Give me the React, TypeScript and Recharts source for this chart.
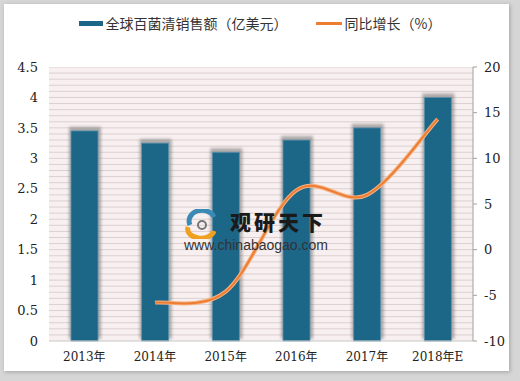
import React from "react";
import { ComposedChart, Bar, Line, XAxis, YAxis, CartesianGrid, Legend, ReferenceLine } from "recharts";

const categories = ["2013年", "2014年", "2015年", "2016年", "2017年", "2018年E"];
const salesValues = [3.45, 3.25, 3.1, 3.3, 3.5, 4.0];
const growthValues: (number | null)[] = [null, -5.8, -4.6, 6.5, 6.0, 14.3];
const leftTicks = [0, 0.5, 1, 1.5, 2, 2.5, 3, 3.5, 4, 4.5];
const rightTicks = [-10, -5, 0, 5, 10, 15, 20];
const SALES_NAME = "全球百菌清销售额（亿美元）";
const GROWTH_NAME = "同比增长（%）";

const data = categories.map((c, i) => ({ name: c, sales: salesValues[i], growth: growthValues[i] }));
// decorative background stripes every 0.1 on the left scale
const stripeValues = Array.from({ length: 45 }, (_, i) => Math.round((i + 1) * 10) / 100);

const BAR_COLOR = "#1c6688";
const LINE_COLOR = "#ed7d31";
const NUM_FONT = "'DejaVu Serif', 'Noto Sans CJK SC', serif";

// Catmull-Rom style smoothing similar to spreadsheet "smoothed line"
function smoothCurve(context: any) {
  let pts: [number, number][] = [];
  return {
    areaStart() {},
    areaEnd() {},
    lineStart() {
      pts = [];
    },
    point(x: number, y: number) {
      pts.push([+x, +y]);
    },
    lineEnd() {
      if (!pts.length) return;
      context.moveTo(pts[0][0], pts[0][1]);
      for (let i = 0; i < pts.length - 1; i++) {
        const p0 = pts[i - 1] || pts[i];
        const p1 = pts[i];
        const p2 = pts[i + 1];
        const p3 = pts[i + 2] || p2;
        const t = 6;
        context.bezierCurveTo(
          p1[0] + (p2[0] - p0[0]) / t,
          p1[1] + (p2[1] - p0[1]) / t,
          p2[0] - (p3[0] - p1[0]) / t,
          p2[1] - (p3[1] - p1[1]) / t,
          p2[0],
          p2[1]
        );
      }
    },
  };
}

const ShadowBar = (props: any) => {
  const { x, y, width, height } = props;
  if (width == null || height == null) return null;
  return (
    <g>
      <defs>
        <filter id="barShadowBlur" x="-50%" y="-50%" width="200%" height="200%">
          <feGaussianBlur stdDeviation="1.6" />
        </filter>
      </defs>
      <rect x={x - 2} y={y - 4} width={width + 5} height={height + 2} fill="#6e6e6e" opacity={0.55} filter="url(#barShadowBlur)" />
      <rect x={x} y={y} width={width} height={height} fill={BAR_COLOR} stroke="#5e93ad" strokeWidth={0.8} />
    </g>
  );
};

const LegendContent = () => (
  <div
    style={{
      display: "flex",
      justifyContent: "center",
      alignItems: "center",
      fontFamily: "'Noto Sans CJK SC', sans-serif",
      fontSize: 14,
      color: "#333",
      gap: 28,
    }}
  >
    <div style={{ display: "flex", alignItems: "center" }}>
      <span style={{ display: "inline-block", width: 24, height: 5, background: BAR_COLOR, marginRight: 3 }} />
      <span>{SALES_NAME}</span>
    </div>
    <div style={{ display: "flex", alignItems: "center" }}>
      <span style={{ display: "inline-block", width: 26, height: 3, background: LINE_COLOR, marginRight: 3 }} />
      <span>{GROWTH_NAME}</span>
    </div>
  </div>
);

const Watermark = () => (
  <div style={{ position: "absolute", left: 184, top: 207, pointerEvents: "none" }}>
    <svg width={40} height={30} style={{ position: "absolute", left: 0, top: 2 }}>
      <path d="M6 16 A12 10 0 0 1 30 8" stroke="#3a8ab5" strokeWidth={5} fill="none" />
      <path d="M4 18 A13 9 0 0 0 30 22" stroke="#f0a020" strokeWidth={5} fill="none" />
      <circle cx={18} cy={16} r={4} fill="none" stroke="#777" strokeWidth={2} />
    </svg>
    <div
      style={{
        position: "absolute",
        left: 46,
        top: 3,
        fontFamily: "'Noto Sans CJK SC', sans-serif",
        fontWeight: 900,
        fontSize: 21,
        color: "#1a1a1a",
        letterSpacing: 3,
        whiteSpace: "nowrap",
        lineHeight: "22px",
      }}
    >
      观研天下
    </div>
    <div
      style={{
        position: "absolute",
        left: 0,
        top: 31,
        fontFamily: "'Liberation Sans', Arial, sans-serif",
        fontSize: 14,
        color: "#333",
        whiteSpace: "nowrap",
        lineHeight: "14px",
      }}
    >
      www.chinabaogao.com
    </div>
  </div>
);

export default function App() {
  return (
    <div style={{ position: "absolute", left: 0, top: 0, width: 520, height: 381, background: "#d6d6d6" }}>
      <div
        style={{
          position: "absolute",
          left: 4,
          top: 4,
          width: 505,
          height: 367,
          background: "#ffffff",
          boxShadow: "1px 1px 4px rgba(0,0,0,0.25)",
        }}
      />
      <div style={{ position: "absolute", left: 0, top: 0 }}>
        <ComposedChart width={520} height={381} data={data} margin={{ top: 47, right: 7, bottom: 10, left: 9 }}>
          <CartesianGrid yAxisId="left" horizontal={false} vertical={false} fill="#f8f0f0" />
          <XAxis
            dataKey="name"
            tickLine={false}
            tickSize={0}
            tickMargin={11}
            height={30}
            axisLine={{ stroke: "#c8c8c8" }}
            tick={{ fontFamily: NUM_FONT, fontSize: 12, fill: "#222" }}
            interval={0}
          />
          <YAxis
            yAxisId="left"
            orientation="left"
            domain={[0, 4.5]}
            ticks={leftTicks}
            width={40}
            axisLine={false}
            tickLine={false}
            tickSize={0}
            tickMargin={11}
            tick={{ fontFamily: NUM_FONT, fontSize: 13, fill: "#222" }}
          />
          <YAxis
            yAxisId="right"
            orientation="right"
            domain={[-10, 20]}
            ticks={rightTicks}
            width={40}
            axisLine={{ stroke: "#a0a0a0" }}
            tickLine={{ stroke: "#a0a0a0" }}
            tickSize={4}
            tickMargin={7}
            tick={{ fontFamily: NUM_FONT, fontSize: 13, fill: "#222", textAnchor: "start" }}
          />
          {stripeValues.map((v) => (
            <ReferenceLine
              key={v}
              yAxisId="left"
              y={v}
              stroke="#dccfcf"
              strokeWidth={1}
              ifOverflow="hidden"
              {...({ zIndex: -60 } as any)}
            />
          ))}
          <Legend verticalAlign="top" align="center" content={<LegendContent />} wrapperStyle={{ top: 13, left: 0, width: 520 }} />
          <Bar
            yAxisId="left"
            dataKey="sales"
            name={SALES_NAME}
            barSize={27}
            fill={BAR_COLOR}
            shape={<ShadowBar />}
            isAnimationActive={false}
          />
          <Line
            yAxisId="right"
            dataKey="growth"
            name={GROWTH_NAME}
            type={smoothCurve as any}
            stroke="#f5b183"
            strokeWidth={4}
            dot={false}
            activeDot={false}
            legendType="none"
            isAnimationActive={false}
          />
          <Line
            yAxisId="right"
            dataKey="growth"
            name={GROWTH_NAME}
            type={smoothCurve as any}
            stroke={LINE_COLOR}
            strokeWidth={2}
            dot={false}
            activeDot={false}
            isAnimationActive={false}
          />
        </ComposedChart>
      </div>
      <Watermark />
    </div>
  );
}
